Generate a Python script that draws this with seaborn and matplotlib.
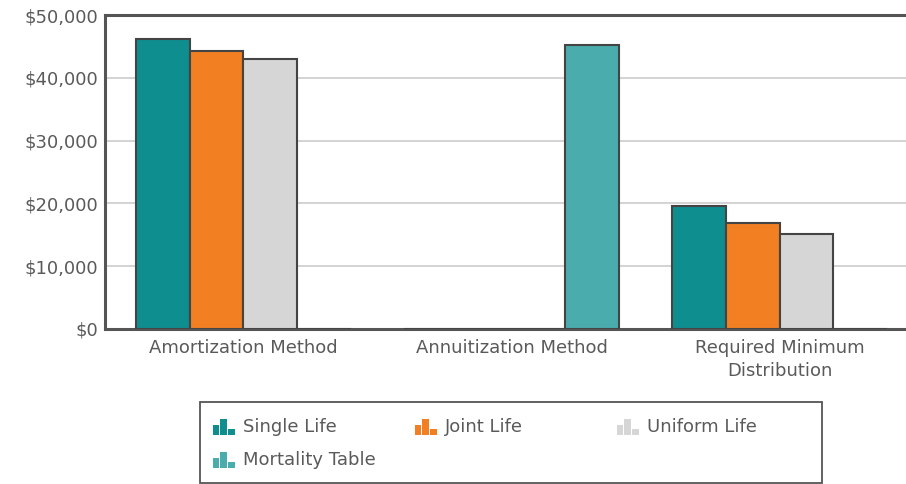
import numpy as np
import pandas as pd
import matplotlib
matplotlib.use("Agg")
import matplotlib.pyplot as plt
import matplotlib.patches as mpatches
import seaborn as sns

# data
methods = ["Amortization Method", "Annuitization Method", "Required Minimum\nDistribution"]
series = ["Single Life", "Joint Life", "Uniform Life", "Mortality Table"]
single_life = [46150, 0, 19650]
joint_life = [44250, 0, 16950]
uniform_life = [42950, 0, 15050]
mortality_table = [0, 45200, 0]
colors = ["#0E8E8E", "#F28023", "#D6D6D6", "#4AACAC"]

df = pd.DataFrame({
    "method": methods * 4,
    "series": np.repeat(series, 3),
    "value": single_life + joint_life + uniform_life + mortality_table,
})

sns.set_style("white")
plt.rcParams["font.family"] = ["DejaVu Sans"]

W, H = 906, 484
fig = plt.figure(figsize=(W / 100, H / 100), dpi=100)
ax = fig.add_axes([105 / W, 1 - 329 / H, (918 - 105) / W, (329 - 15) / H])

sns.barplot(data=df, x="method", y="value", hue="series", order=methods,
            hue_order=series, palette=colors, saturation=1, edgecolor="#444444",
            linewidth=1.5, width=0.8, legend=False, ax=ax, zorder=3)

ax.set_ylim(0, 50000)
ax.set_xlim(-0.515, 2.515)
ax.set_yticks(np.arange(0, 50001, 10000))
ax.set_yticklabels(["${:,.0f}".format(v) for v in np.arange(0, 50001, 10000)])
ax.yaxis.grid(True, color="#cccccc", linewidth=1.2, zorder=0)
ax.set_axisbelow(True)
ax.set_xlabel("")
ax.set_ylabel("")
ax.tick_params(axis="y", length=0, labelsize=13, colors="#5a5a5a", pad=5)
ax.tick_params(axis="x", length=0, labelsize=13, colors="#5a5a5a", pad=7)
for lbl in ax.get_xticklabels():
    lbl.set_linespacing(1.4)

for side in ["top", "left", "bottom"]:
    ax.spines[side].set_color("#555555")
    ax.spines[side].set_linewidth(2.2)
ax.spines["right"].set_visible(False)

# legend box drawn by hand: 3 columns on a fixed grid, row-wise order
fig.patches.append(mpatches.Rectangle((200 / W, 1 - 483 / H), 622 / W, 81 / H,
                                      transform=fig.transFigure, facecolor="white",
                                      edgecolor="#555555", linewidth=1.3))
col_x = [213, 415, 617]
row_y = [427, 460]
for i, (name, c) in enumerate(zip(series, colors)):
    x0 = col_x[i % 3]
    yc = row_y[i // 3]
    # small bar-chart icon
    for dx, bw, h in zip([0, 7, 15], [6, 7, 7], [10, 16, 6]):
        fig.patches.append(mpatches.Rectangle(((x0 + dx) / W, 1 - (yc + 8) / H),
                                              bw / W, h / H, transform=fig.transFigure,
                                              facecolor=c, edgecolor="none"))
    fig.text((x0 + 30) / W, 1 - yc / H, name, fontsize=13, color="#5a5a5a",
             va="center", ha="left")

fig.savefig("out.png", dpi=100)
